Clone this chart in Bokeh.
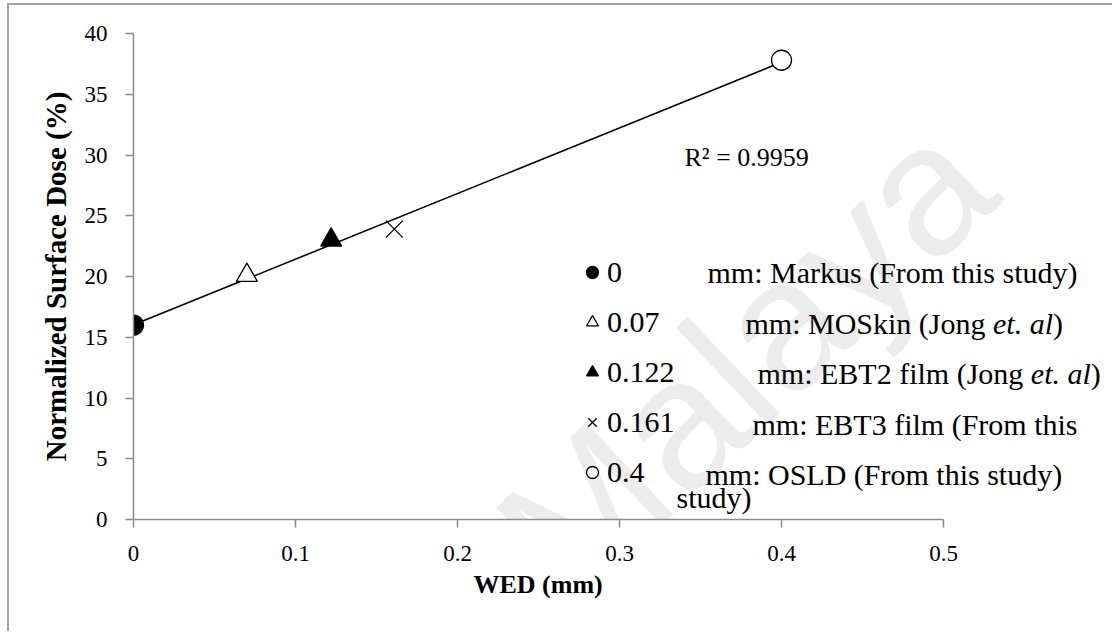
import numpy as np
from bokeh.plotting import figure
from bokeh.models import Range1d, Legend, LegendItem, Label, FixedTicker, Title
from bokeh.embed import file_html
from bokeh.resources import INLINE

# ---- data ----
wed = [0.0, 0.07, 0.122, 0.161, 0.4]
dose = [16.0, 20.1, 23.0, 23.9, 37.8]
marker_types = ["circle", "triangle", "triangle", "x", "circle"]
marker_filled = [True, False, True, False, False]
marker_sizes = [20, 21, 21, 24, 20]
legend_nums = ["0", "0.07", "0.122", "0.161", "0.4"]
legend_desc = [
    [("mm: Markus (From this study)", "normal")],
    [("mm: MOSkin (Jong ", "normal"), ("et. al", "italic"), (")", "normal")],
    [("mm: EBT2 film (Jong ", "normal"), ("et. al", "italic"), (")", "normal")],
    [("mm: EBT3 film (From this", "normal")],
    [("mm: OSLD (From this study)", "normal")],
]
overflow_text = "study)"
x_ticks = [0, 0.1, 0.2, 0.3, 0.4, 0.5]
y_ticks = [0, 5, 10, 15, 20, 25, 30, 35, 40]
x_title = "WED (mm)"
y_title = "Normalized Surface Dose (%)"
r2_text = "R\u00b2 = 0.9959"
watermark = "of Malaya"

SERIF = "Liberation Serif"

# page geometry (px): the chart sits in a box whose left/top border is at 8/4
OX, OY = 9, 5                       # canvas offset inside the page
W, H = 1114 - OX, 633 - OY          # canvas size
PL, PB, PT = 133, 519, 33           # axis origin / top of y axis in page px
PX_PER_X = 1620.0                   # px per mm
PX_PER_Y = (PB - PT) / 40.0         # px per %

FL = PL - OX
FB = PB - OY
FT = PT - OY

p = figure(width=W, height=H, output_backend="svg", toolbar_location=None,
           x_range=Range1d(0, (W - FL) / PX_PER_X),
           y_range=Range1d(0, 40),
           min_border_left=FL, min_border_right=0,
           min_border_top=FT, min_border_bottom=H - FB,
           background_fill_color="white", border_fill_color="white")
p.outline_line_color = None
p.grid.visible = False
p.styles = {"margin-left": "7px", "margin-top": "3px",
            "border-left": "2px solid #a3a3a3", "border-top": "2px solid #a3a3a3"}


def px2x(px):
    return (px - PL) / PX_PER_X


def py2y(py):
    return (PB - py) / PX_PER_Y


# axes
for ax in (p.xaxis[0], p.yaxis[0]):
    ax.axis_line_color = "#8c8c8c"
    ax.axis_line_width = 1.5
    ax.major_tick_line_color = "#8c8c8c"
    ax.major_tick_line_width = 1.5
    ax.major_tick_out = 8
    ax.major_tick_in = 0
    ax.minor_tick_line_color = None
    ax.major_label_text_font = SERIF
    ax.major_label_text_font_size = "23px"
    ax.major_label_text_color = "black"
    ax.axis_label_text_font = SERIF
    ax.axis_label_text_font_style = "bold"
    ax.axis_label_text_color = "black"

p.xaxis.bounds = (x_ticks[0], x_ticks[-1])
p.yaxis.bounds = (y_ticks[0], y_ticks[-1])
p.xaxis.ticker = FixedTicker(ticks=x_ticks)
p.xaxis.major_label_overrides = {t: f"{t:g}" for t in x_ticks}
p.yaxis.ticker = FixedTicker(ticks=y_ticks)
p.yaxis.axis_label = y_title
p.yaxis.axis_label_text_font_size = "29px"
p.xaxis.major_label_standoff = 18
p.yaxis.major_label_standoff = 18
p.yaxis.axis_label_standoff = 10

# x title centred under the 0..0.5 axis (frame is wider than the axis)
p.add_layout(Title(text=x_title, align="left", offset=340, standoff=9,
                   text_font=SERIF, text_font_style="bold",
                   text_font_size="26px", text_color="black"), "below")

# watermark
p.add_layout(Label(x=px2x(450), y=py2y(780), text=watermark, angle=0.76,
                   text_font="Liberation Sans",
                   text_font_size="185px", text_color="#ececec",
                   level="underlay"))

# trendline (least squares fit of the data)
slope, intercept = np.polyfit(wed, dose, 1)
xs_fit = [min(wed), max(wed)]
p.line(xs_fit, [intercept + slope * v for v in xs_fit],
       line_color="black", line_width=1.6)

# points
items = []
for i in range(len(wed)):
    fill = "black" if marker_filled[i] else "white"
    r = p.scatter([wed[i]], [dose[i]], marker=marker_types[i],
                  size=marker_sizes[i], fill_color=fill,
                  line_color="black", line_width=1.3)
    items.append(LegendItem(label=legend_nums[i], renderers=[r]))

legend = Legend(items=items, location=(444, 29),
                glyph_width=30, glyph_height=36, label_height=36,
                label_standoff=-4, spacing=14, padding=0, margin=0,
                border_line_color=None, background_fill_alpha=0,
                label_text_font=SERIF, label_text_font_size="30px",
                label_text_color="black")
p.add_layout(legend, "center")

# legend descriptions
row_y = [272, 322.5, 373, 423.5, 474]
row_x = [707, 745, 757, 752, 705]
FS = 30


def est_width(s, style):
    w_n = {'m': .778, ':': .278, ' ': .25, 'M': .889, 'O': .722, 'S': .556,
           'k': .5, 'i': .278, 'n': .5, '(': .333, ')': .333, 'J': .389,
           'o': .5, 'g': .5, 'E': .611, 'B': .667, 'T': .611, '2': .5,
           'f': .333, 'l': .278}
    w_i = {'e': .444, 't': .278, '.': .25, ' ': .25, 'a': .5, 'l': .278}
    table = w_i if style == "italic" else w_n
    return sum(table.get(c, .5) for c in s) * FS


for k, parts in enumerate(legend_desc):
    x = row_x[k]
    for txt, style in parts:
        p.add_layout(Label(x=px2x(x), y=py2y(row_y[k]), text=txt,
                           text_font=SERIF, text_font_style=style,
                           text_font_size=f"{FS}px", text_color="black",
                           text_baseline="middle", text_align="left"))
        x += est_width(txt, style)

p.add_layout(Label(x=px2x(676), y=py2y(497), text=overflow_text,
                   text_font=SERIF, text_font_size=f"{FS}px",
                   text_color="black", text_baseline="middle"))

# R^2 label
p.add_layout(Label(x=px2x(684), y=py2y(157), text=r2_text,
                   text_font=SERIF, text_font_size="26px", text_color="black",
                   text_baseline="middle"))

open("out.html", "w").write(file_html(p, INLINE))
